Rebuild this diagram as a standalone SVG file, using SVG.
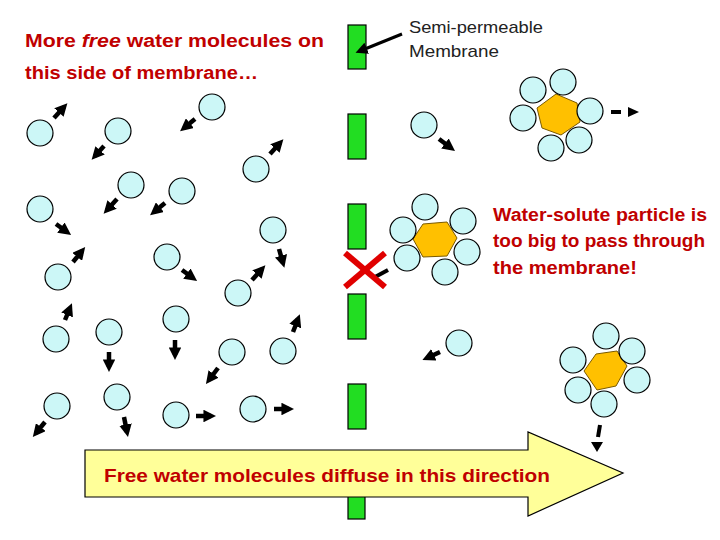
<svg xmlns="http://www.w3.org/2000/svg" width="720" height="540" viewBox="0 0 720 540">
<style>
.w{fill:#ccf7f7;stroke:#000;stroke-width:1.2}
.hx{fill:#ffc000;stroke:#7a5a00;stroke-width:1}
.mb{fill:#22dd22;stroke:#000;stroke-width:1.2}
.mv{stroke:#000;stroke-width:4.5;marker-end:url(#ah)}
.t{font-family:"Liberation Sans",Arial,sans-serif}
</style>
<defs>
<marker id="ah" viewBox="0 0 10 10" refX="6" refY="5" markerWidth="2.8" markerHeight="2.8" orient="auto" markerUnits="strokeWidth"><path d="M0,0 L10,5 L0,10 z" fill="#000"/></marker>
<marker id="ah2" viewBox="0 0 10 10" refX="6" refY="5" markerWidth="4" markerHeight="4" orient="auto" markerUnits="strokeWidth"><path d="M0,0 L10,5 L0,10 z" fill="#000"/></marker>
</defs>
<rect width="720" height="540" fill="#fff"/>
<g id="membrane">
<rect class="mb" x="348" y="25" width="18" height="44"/>
<rect class="mb" x="348" y="114" width="18" height="45"/>
<rect class="mb" x="348" y="204" width="18" height="45"/>
<rect class="mb" x="348" y="294" width="18" height="45"/>
<rect class="mb" x="348" y="384" width="18" height="45"/>
<rect class="mb" x="348" y="494" width="17" height="25"/>
</g>
<g id="big-arrow">
<polygon points="85,450 528,450 528,432 623,473 528,516 528,497 85,497" fill="#ffff99" stroke="#000" stroke-width="1.2"/>
<text class="t" x="104" y="482" font-size="19" font-weight="bold" fill="#c00000" textLength="446" lengthAdjust="spacingAndGlyphs">Free water molecules diffuse in this direction</text>
</g>
<g id="labels">
<text class="t" x="25" y="47" font-size="18" font-weight="bold" fill="#c00000" textLength="299" lengthAdjust="spacingAndGlyphs">More <tspan font-style="italic">free</tspan> water molecules on</text>
<text class="t" x="25" y="79" font-size="18" font-weight="bold" fill="#c00000" textLength="233" lengthAdjust="spacingAndGlyphs">this side of membrane…</text>
<text class="t" x="409" y="33" font-size="17" fill="#222" textLength="134" lengthAdjust="spacingAndGlyphs">Semi-permeable</text>
<text class="t" x="409" y="57" font-size="17" fill="#222" textLength="90" lengthAdjust="spacingAndGlyphs">Membrane</text>
<text class="t" x="493" y="221" font-size="18" font-weight="bold" fill="#c00000" textLength="214" lengthAdjust="spacingAndGlyphs">Water-solute particle is</text>
<text class="t" x="493" y="247" font-size="18" font-weight="bold" fill="#c00000" textLength="212" lengthAdjust="spacingAndGlyphs">too big to pass through</text>
<text class="t" x="493" y="274" font-size="18" font-weight="bold" fill="#c00000" textLength="144" lengthAdjust="spacingAndGlyphs">the membrane!</text>
</g>
<g id="molecules">
<circle class="w" cx="40" cy="133" r="13"/><circle class="w" cx="118" cy="131" r="13"/>
<circle class="w" cx="212" cy="107" r="13"/><circle class="w" cx="256" cy="169" r="13"/>
<circle class="w" cx="131" cy="185" r="13"/><circle class="w" cx="182" cy="191" r="13"/>
<circle class="w" cx="40" cy="209" r="13"/><circle class="w" cx="273" cy="230" r="13"/>
<circle class="w" cx="167" cy="257" r="13"/><circle class="w" cx="58" cy="277" r="13"/>
<circle class="w" cx="238" cy="293" r="13"/><circle class="w" cx="56" cy="339" r="13"/>
<circle class="w" cx="109" cy="332" r="13"/><circle class="w" cx="176" cy="319" r="13"/>
<circle class="w" cx="232" cy="352" r="13"/><circle class="w" cx="283" cy="351" r="13"/>
<circle class="w" cx="57" cy="406" r="13"/><circle class="w" cx="117" cy="397" r="13"/>
<circle class="w" cx="176" cy="415" r="13"/><circle class="w" cx="253" cy="409" r="13"/>
<circle class="w" cx="424" cy="125" r="13"/><circle class="w" cx="459" cy="343" r="13"/>
</g>
<g id="cluster1">
<polygon class="hx" points="537,108 556,94 577,103 580,122 561,135 542,128"/>
<circle class="w" cx="533" cy="90" r="13"/><circle class="w" cx="563" cy="82" r="13"/>
<circle class="w" cx="590" cy="111" r="13"/><circle class="w" cx="579" cy="140" r="13"/>
<circle class="w" cx="551" cy="148" r="13"/><circle class="w" cx="523" cy="118" r="13"/>
</g>
<g id="cluster2">
<polygon class="hx" points="413,239 423,224 447,222 457,238 447,256 423,257"/>
<circle class="w" cx="425" cy="207" r="13"/><circle class="w" cx="463" cy="221" r="13"/>
<circle class="w" cx="467" cy="252" r="13"/><circle class="w" cx="445" cy="272" r="13"/>
<circle class="w" cx="407" cy="258" r="13"/><circle class="w" cx="403" cy="230" r="13"/>
</g>
<g id="cluster3">
<polygon class="hx" points="584,371 596,354 617,351 627,366 616,386 597,390"/>
<circle class="w" cx="606" cy="336" r="13"/><circle class="w" cx="632" cy="351" r="13"/>
<circle class="w" cx="637" cy="380" r="13"/><circle class="w" cx="604" cy="404" r="13"/>
<circle class="w" cx="578" cy="390" r="13"/><circle class="w" cx="573" cy="360" r="13"/>
</g>
<g id="connectors">
<line class="mv" x1="54" y1="118" x2="64" y2="107"/>
<line class="mv" x1="104" y1="146" x2="95" y2="156"/>
<line class="mv" x1="195" y1="119" x2="184" y2="128"/>
<line class="mv" x1="270" y1="154" x2="280" y2="143"/>
<line class="mv" x1="117" y1="199" x2="107" y2="210"/>
<line class="mv" x1="165" y1="203" x2="154" y2="212"/>
<line class="mv" x1="56" y1="224" x2="67" y2="232"/>
<line class="mv" x1="279" y1="249" x2="283" y2="263"/>
<line class="mv" x1="182" y1="270" x2="193" y2="278"/>
<line class="mv" x1="73" y1="262" x2="82" y2="251"/>
<line class="mv" x1="252" y1="280" x2="262" y2="269"/>
<line class="mv" x1="65" y1="320" x2="70" y2="308"/>
<line class="mv" x1="109" y1="352" x2="109" y2="367"/>
<line class="mv" x1="175" y1="340" x2="175" y2="355"/>
<line class="mv" x1="218" y1="368" x2="209" y2="380"/>
<line class="mv" x1="293" y1="332" x2="298" y2="319"/>
<line class="mv" x1="45" y1="422" x2="36" y2="433"/>
<line class="mv" x1="124" y1="417" x2="127" y2="432"/>
<line class="mv" x1="196" y1="416" x2="211" y2="416"/>
<line class="mv" x1="274" y1="409" x2="289" y2="409"/>
<line class="mv" x1="439" y1="139" x2="451" y2="148"/>
<line class="mv" x1="440" y1="352" x2="427" y2="358"/>
<line stroke="#000" stroke-width="3" marker-end="url(#ah2)" x1="402" y1="34" x2="360" y2="51"/>
<line stroke="#000" stroke-width="4" x1="611" y1="112" x2="621" y2="112"/>
<polygon points="628,107 639,112 628,117" fill="#000"/>
<line stroke="#000" stroke-width="4" x1="600" y1="425" x2="598" y2="437"/>
<polygon points="591,442 603,442 597,452" fill="#000"/>
<line stroke="#000" stroke-width="4" x1="375" y1="277" x2="388" y2="270"/>
<line stroke="#e00000" stroke-width="6" x1="345" y1="253" x2="385" y2="287"/>
<line stroke="#e00000" stroke-width="6" x1="385" y1="253" x2="345" y2="287"/>
</g>
</svg>
